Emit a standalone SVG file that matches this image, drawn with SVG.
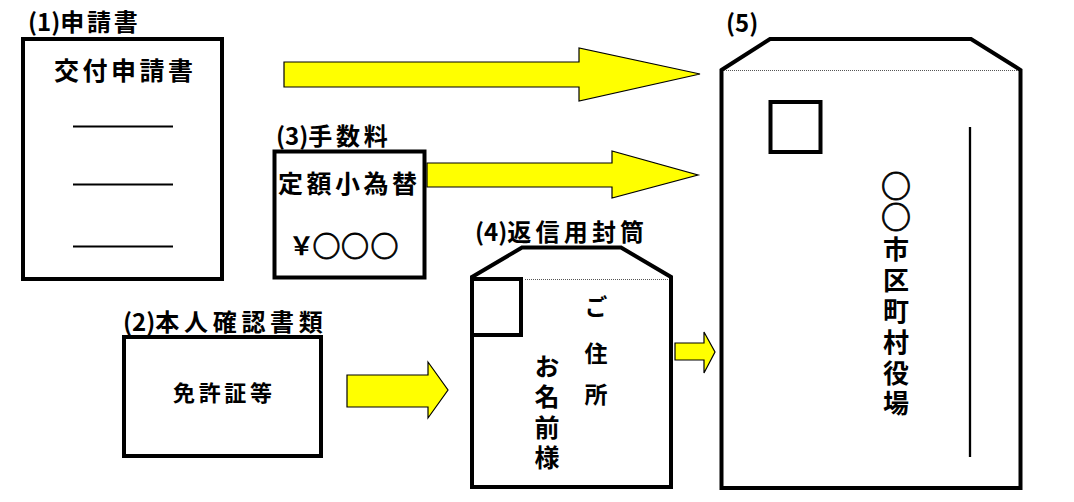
<svg xmlns="http://www.w3.org/2000/svg" width="1074" height="502" viewBox="0 0 1074 502">
<style>
.t{font-family:"Noto Sans CJK JP","Noto Sans CJK SC",sans-serif;font-weight:bold;fill:#000}
.lbl{font-size:24px}
.v{writing-mode:vertical-rl}
.box{fill:#fff;stroke:#000;stroke-width:4}
.ln{stroke:#000;stroke-width:2}
.dot{stroke:#555;stroke-width:1.2;stroke-dasharray:1 1}
.arr{fill:#ffff00;stroke:#000;stroke-width:1.2;stroke-linejoin:miter}
</style>
<rect width="1074" height="502" fill="#fff"/>

<g id="node1">
<text class="t lbl" x="28" y="31">(1)<tspan letter-spacing="2.7">申請書</tspan></text>
<rect class="box" x="23" y="39" width="199" height="240"/>
<text class="t" x="54" y="80" font-size="25" textLength="139">交付申請書</text>
<line class="ln" x1="73" y1="126.5" x2="173" y2="126.5"/>
<line class="ln" x1="73" y1="184.5" x2="173" y2="184.5"/>
<line class="ln" x1="73" y1="246.5" x2="173" y2="246.5"/>
</g>

<g id="node3">
<text class="t lbl" x="276" y="145">(3)<tspan letter-spacing="3.7">手数料</tspan></text>
<rect class="box" x="274.5" y="151.5" width="150" height="126"/>
<text class="t" x="278" y="193" font-size="25" textLength="139">定額小為替</text>
<text class="t" text-anchor="middle"><tspan x="301.5" y="255" font-size="25">￥</tspan><tspan x="326.5 355 384.5" y="256.5" font-size="28" stroke="#000" stroke-width="0.8">○○○</tspan></text>
</g>

<g id="node2">
<text class="t lbl" x="123" y="331">(2)<tspan letter-spacing="4.7">本人確認書類</tspan></text>
<rect class="box" x="124" y="337" width="197" height="119"/>
<text class="t" x="173" y="401" font-size="22" textLength="99">免許証等</text>
</g>

<g id="node4">
<text class="t lbl" x="475" y="241">(4)<tspan letter-spacing="4.2">返信用封筒</tspan></text>
<polygon class="box" points="472,277 522,247.5 621,247.5 671,277 671,487 472,487"/>
<line class="dot" x1="525" y1="279.5" x2="669" y2="279.5"/>
<rect class="box" x="472" y="279" width="49" height="56"/>
<text class="t v" font-size="23" x="596" y="294.5 341.5 382.5">ご住所</text>
<text class="t v" font-size="25" x="547" y="353.5 384 414.5 445">お名前様</text>
</g>

<g id="node5">
<text class="t lbl" x="726" y="32">(5)</text>
<polygon class="box" points="721.5,70 770,39 971,39 1020.5,70 1020.5,488 721.5,488"/>
<line class="dot" x1="724" y1="70.5" x2="1018" y2="70.5"/>
<rect class="box" x="770.5" y="102" width="50" height="50"/>
<line x1="970" y1="127" x2="970" y2="457" stroke="#000" stroke-width="2.3"/>
<text class="t v" font-size="26" x="896"><tspan y="171 202" font-size="30" stroke="#000" stroke-width="0.8">○○</tspan><tspan y="236.5 267.5 298 329 360 390">市区町村役場</tspan></text>
</g>

<g id="connectors">
<polygon class="arr" points="284,62 579,62 579,48 700,74 579,101 579,87 284,87"/>
<polygon class="arr" points="427,163 612,163 612,151 698,175 612,198 612,187 427,187"/>
<polygon class="arr" points="347,375 428,375 428,362 448,390 428,418 428,407 347,407"/>
<polygon class="arr" points="675,343 704,343 704,332 715,352 704,373 704,360 675,360"/>
</g>
</svg>
